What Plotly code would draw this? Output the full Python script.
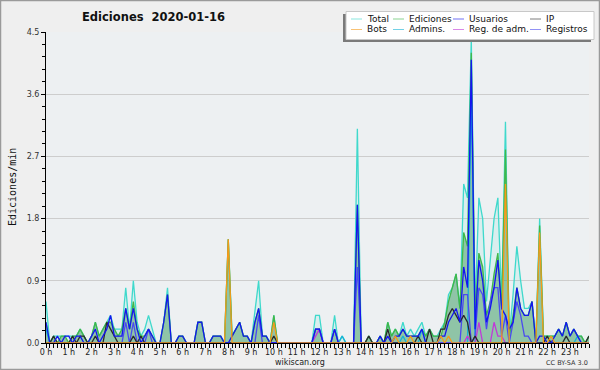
import plotly.graph_objects as go

# ---- data: one value every 10 minutes (edits per minute) ----
minutos = list(range(0, 1440, 10))
horas = [f"{h} h" for h in range(24)]

total = [
    .6, 0, .1, .1, .1, .1,
    .1, .1, .1, .2, .1, 0,
    .1, .3, .1, .2, .3, .4,
    .2, .2, .2, .8, .2, .9,
    .3, .1, .2, .4, .2, 0,
    0, .3, .8, 0, 0, .1,
    .1, 0, 0, 0, .3, .3,
    0, 0, .1, .1, .1, 0,
    1.5, .1, .2, .3, .1, .1,
    0, .5, .9, .1, .1, 0,
    .4, 0, 0, 0, 0, 0,
    0, 0, 0, 0, 0, .4,
    .4, 0, 0, 0, .4, 0,
    .1, 0, 0, 0, 3.1, 0,
    0, .1, 0, 0, .1, 0,
    .3, .1, .2, .1, .3, .1,
    .2, .1, .2, .3, .1, .2,
    .1, .1, .2, .3, .7, .8,
    1.0, .5, 2.3, 2.1, 4.4, .5,
    2.1, 1.8, .6, 1.2, 1.8, 2.1,
    .6, 3.2, .1, .7, 1.4, .9,
    .5, .5, .6, 0, 1.8, .1,
    .1, .1, .1, .2, .1, .3,
    .1, .2, .1, .1, 0, .1,
]
ediciones = [
    .3, 0, .1, 0, .1, .1,
    0, .1, .1, .2, .1, 0,
    .1, .3, .1, .2, .3, .3,
    .2, .1, .2, .5, .2, .6,
    .2, .1, .1, .2, .1, 0,
    0, .3, .7, 0, 0, .1,
    .1, 0, 0, 0, .3, .3,
    0, 0, .1, .1, .1, 0,
    1.5, .1, .2, .3, .1, .1,
    0, .3, .5, .1, .1, 0,
    .4, 0, 0, 0, 0, 0,
    0, 0, 0, 0, 0, .2,
    .2, 0, 0, 0, .2, 0,
    0, 0, 0, 0, 2.0, 0,
    0, .1, 0, 0, .1, 0,
    .3, .1, .2, .1, .2, .1,
    .1, .1, .1, .2, .1, .2,
    .1, .1, .1, .3, .6, .8,
    1.0, .5, 1.6, 1.4, 4.2, .4,
    1.3, 1.1, .4, .6, 1.0, 1.3,
    .5, 2.8, .1, .4, .8, .5,
    .4, .4, .6, 0, 1.7, .1,
    .1, .1, .1, .2, .1, .3,
    .1, .2, .1, .1, 0, .1,
]
usuarios = [
    .3, 0, 0, .1, 0, .1,
    .1, 0, .1, .1, 0, 0,
    .1, .2, 0, .1, .2, .4,
    .1, .1, .1, .5, .2, .5,
    .2, 0, .1, .2, .1, 0,
    0, .3, .7, 0, 0, .1,
    .1, 0, 0, 0, .3, .3,
    0, 0, .1, .1, .1, 0,
    0, .1, .2, .3, .1, .1,
    0, .3, .5, .1, .1, 0,
    0, 0, 0, 0, 0, 0,
    0, 0, 0, 0, 0, .2,
    .2, 0, 0, 0, .2, 0,
    0, 0, 0, 0, 2.0, 0,
    0, 0, 0, 0, .1, 0,
    .1, 0, .1, .1, .2, .1,
    .1, .1, .1, .2, 0, 0,
    0, 0, .1, .1, .3, .4,
    .5, .3, 1.1, .8, 4.1, .2,
    1.2, .9, .3, .5, .8, 1.2,
    .5, .4, .2, .3, .8, .5,
    .4, .4, .6, 0, .1, .1,
    0, 0, .1, .2, .1, .3,
    .1, .2, .1, 0, 0, 0,
]
ip = [
    0, 0, .1, 0, 0, 0,
    0, .1, 0, .1, .1, 0,
    0, .1, 0, 0, .3, .2,
    .1, 0, 0, 0, 0, .1,
    0, .1, 0, 0, 0, 0,
    0, 0, 0, 0, 0, 0,
    0, 0, 0, 0, 0, 0,
    0, 0, 0, 0, 0, 0,
    0, 0, 0, 0, 0, 0,
    0, 0, 0, 0, 0, 0,
    .1, 0, 0, 0, 0, 0,
    0, 0, 0, 0, 0, 0,
    0, 0, 0, 0, 0, 0,
    0, 0, 0, 0, 0, 0,
    0, .1, 0, 0, 0, 0,
    .2, 0, 0, 0, 0, 0,
    0, 0, .1, 0, 0, .2,
    0, 0, .2, .2, .4, .5,
    .4, .3, .4, .3, 0, .1,
    0, 0, 0, 0, 0, 0,
    0, 0, 0, 0, 0, 0,
    0, 0, 0, 0, 0, 0,
    .1, 0, 0, 0, 0, .1,
    0, 0, 0, 0, 0, .1,
]
bots = [
    0, 0, 0, 0, 0, 0,
    0, 0, 0, 0, 0, 0,
    0, 0, 0, 0, 0, 0,
    0, 0, 0, 0, 0, 0,
    0, 0, 0, 0, 0, 0,
    0, 0, 0, 0, 0, 0,
    0, 0, 0, 0, 0, 0,
    0, 0, 0, 0, 0, 0,
    1.5, 0, 0, 0, 0, 0,
    0, 0, 0, 0, 0, 0,
    .3, 0, 0, 0, 0, 0,
    0, 0, 0, 0, 0, 0,
    0, 0, 0, 0, 0, 0,
    0, 0, 0, 0, 0, 0,
    0, 0, 0, 0, 0, 0,
    0, 0, .1, 0, 0, 0,
    .1, 0, 0, 0, 0, 0,
    0, 0, .1, 0, .1, 0,
    0, 0, 0, 0, 0, 0,
    0, 0, 0, 0, 0, 0,
    0, 2.3, 0, 0, 0, 0,
    0, 0, 0, 0, 1.6, 0,
    0, .1, 0, 0, 0, 0,
    0, 0, 0, 0, 0, 0,
]
admins = [
    .2, 0, 0, 0, 0, 0,
    0, 0, 0, 0, 0, 0,
    0, 0, 0, 0, 0, 0,
    0, 0, 0, 0, 0, 0,
    0, 0, 0, 0, 0, 0,
    0, 0, 0, 0, 0, 0,
    0, 0, 0, 0, 0, 0,
    0, 0, 0, 0, 0, 0,
    0, 0, 0, 0, 0, 0,
    0, 0, 0, 0, 0, 0,
    0, 0, 0, 0, 0, 0,
    0, 0, 0, 0, 0, 0,
    0, 0, 0, 0, 0, 0,
    .1, 0, 0, 0, 0, 0,
    0, 0, 0, 0, 0, 0,
    0, 0, 0, 0, .1, 0,
    0, 0, 0, .2, 0, 0,
    0, 0, 0, 0, 0, 0,
    0, 0, 0, 0, 3.7, 0,
    0, 0, 0, 0, 0, 0,
    0, 0, 0, 0, 0, 0,
    0, 0, 0, 0, 0, 0,
    0, 0, 0, 0, 0, 0,
    0, 0, .1, 0, 0, 0,
]
reg_adm = [
    0, 0, 0, 0, 0, 0,
    0, 0, 0, 0, 0, 0,
    0, 0, 0, 0, 0, 0,
    0, 0, 0, 0, 0, 0,
    0, 0, 0, 0, 0, 0,
    0, 0, 0, 0, 0, 0,
    0, 0, 0, 0, 0, 0,
    0, 0, 0, 0, 0, 0,
    0, 0, 0, 0, 0, 0,
    0, 0, 0, 0, 0, 0,
    0, 0, 0, 0, 0, 0,
    0, 0, 0, 0, 0, .1,
    .2, 0, 0, 0, 0, 0,
    0, 0, 0, 0, 0, 0,
    0, 0, 0, 0, 0, 0,
    0, 0, 0, 0, 0, 0,
    0, 0, 0, 0, 0, 0,
    0, 0, 0, 0, 0, 0,
    0, 0, 0, .1, 0, 0,
    .3, 0, 0, 0, .3, .1,
    .1, 0, 0, 0, 0, 0,
    0, 0, 0, 0, 0, 0,
    0, 0, 0, 0, 0, 0,
    0, 0, 0, 0, 0, 0,
]
registros = [
    0, 0, 0, 0, 0, 0,
    0, 0, 0, 0, 0, 0,
    0, 0, 0, 0, 0, 0,
    0, 0, 0, .3, 0, .3,
    0, 0, 0, .2, 0, 0,
    0, 0, 0, 0, 0, 0,
    0, 0, 0, 0, 0, 0,
    0, 0, 0, 0, 0, 0,
    0, 0, 0, 0, 0, 0,
    0, 0, .4, 0, 0, 0,
    0, 0, 0, 0, 0, 0,
    0, 0, 0, 0, 0, .2,
    .2, 0, 0, 0, .2, 0,
    0, 0, 0, 0, 1.1, 0,
    0, 0, 0, 0, 0, 0,
    0, 0, 0, 0, 0, 0,
    0, 0, 0, 0, 0, 0,
    0, 0, 0, 0, 0, 0,
    0, 0, .7, .7, 0, .1,
    .8, .7, .2, .6, .8, .8,
    .1, .4, 0, .3, .6, .4,
    .1, .1, 0, 0, 0, 0,
    0, 0, 0, 0, 0, 0,
    0, 0, 0, 0, 0, 0,
]

# ---- styles ----
series = [
    ("Total", total, "#3fd9cc", "rgba(64,224,208,0.11)"),
    ("Ediciones", ediciones, "#3fb84a", "rgba(60,150,90,0.48)"),
    ("Admins.", admins, "#17b3d6", None),
    ("Reg. de adm.", reg_adm, "#c03ad8", None),
    ("Registros", registros, "#4a4af0", None),
    ("IP", ip, "#2a2a2a", None),
    ("Usuarios", usuarios, "#1414f0", None),
    ("Bots", bots, "#f59a1a", None),
]
colors = {name: c for name, _, c, _ in series}

fig = go.Figure()
for name, vals, col, fill in series:
    fig.add_trace(go.Scatter(
        x=minutos, y=vals, mode="lines", name=name,
        line=dict(color=col, width=1.3),
        fill="tozeroy" if fill else None,
        fillcolor=fill,
        hoverinfo="skip", showlegend=False,
    ))

W, H = 600, 370
L, R, T, B = 46, 11, 32, 27
pw, ph = W - L - R, H - T - B


def px(x):
    return (x - L) / pw


def py(y):
    return (H - B - y) / ph


FONT = "DejaVu Sans"
shapes = []
annotations = []

# outer border
shapes.append(dict(type="rect", xref="paper", yref="paper",
                   x0=px(0.5), x1=px(599.5), y0=py(369.5), y1=py(0.5),
                   line=dict(color="#9a9a9a", width=1.5), fillcolor="rgba(0,0,0,0)",
                   layer="above"))

# legend box (shadow + box)
shapes.append(dict(type="rect", xref="paper", yref="paper",
                   x0=px(343), x1=px(591), y0=py(42), y1=py(14),
                   line=dict(width=0), fillcolor="#7a7a7a", layer="above"))
shapes.append(dict(type="rect", xref="paper", yref="paper",
                   x0=px(346), x1=px(594), y0=py(39.5), y1=py(11.5),
                   line=dict(color="#c8c8c8", width=1), fillcolor="#ffffff", layer="above"))

legend_items = [
    ("Total", 351, 19), ("Ediciones", 393, 19), ("Usuarios", 453, 19), ("IP", 530, 19),
    ("Bots", 351, 29.5), ("Admins.", 393, 29.5), ("Reg. de adm.", 453, 29.5), ("Registros", 530, 29.5),
]
for name, lx, ly in legend_items:
    shapes.append(dict(type="line", xref="paper", yref="paper",
                       x0=px(lx), x1=px(lx + 11), y0=py(ly), y1=py(ly),
                       line=dict(color=colors[name], width=1), opacity=0.6, layer="above"))
    annotations.append(dict(text=name, xref="paper", yref="paper",
                            x=px(lx + 14), y=py(ly), xanchor="left", yanchor="middle",
                            showarrow=False, font=dict(family=FONT, size=9, color="#111")))

annotations += [
    dict(text="<b>Ediciones  2020-01-16</b>", xref="paper", yref="paper",
         x=px(153), y=py(17), xanchor="center", yanchor="middle", showarrow=False,
         font=dict(family=FONT, size=11.5, color="#111")),
    dict(text="Ediciones/min", xref="paper", yref="paper", textangle=-90,
         x=px(12), y=py(187), xanchor="center", yanchor="middle", showarrow=False,
         font=dict(family="DejaVu Sans Mono", size=10, color="#111")),
    dict(text="wikiscan.org", xref="paper", yref="paper",
         x=px(300), y=py(362), xanchor="center", yanchor="middle", showarrow=False,
         font=dict(family=FONT, size=8, color="#222")),
    dict(text="CC BY-SA 3.0", xref="paper", yref="paper",
         x=px(590), y=py(363), xanchor="right", yanchor="middle", showarrow=False,
         font=dict(family=FONT, size=6.5, color="#333")),
]

fig.update_layout(
    width=W, height=H, margin=dict(l=L, r=R, t=T, b=B, autoexpand=False),
    paper_bgcolor="#efefef", plot_bgcolor="#edf0f2",
    shapes=shapes, annotations=annotations, showlegend=False,
    font=dict(family=FONT, size=8, color="#222"),
)
fig.update_xaxes(
    range=[0, 1430], showgrid=False, zeroline=False,
    showline=True, linecolor="#000", linewidth=1,
    tickmode="array", tickvals=list(range(0, 1440, 60)), ticktext=horas,
    ticks="outside", ticklen=4, tickcolor="#000", tickwidth=1,
    ticklabelstandoff=-3,
    minor=dict(dtick=10, tick0=0, ticks="outside", ticklen=4, tickcolor="#000", tickwidth=1),
    tickfont=dict(family=FONT, size=8, color="#222"),
    fixedrange=True,
)
fig.update_yaxes(
    range=[0, 4.5], tick0=0, dtick=0.9, tickformat=".1f",
    showgrid=True, gridcolor="#cdcdcd", gridwidth=1, zeroline=False,
    showline=True, linecolor="#000", linewidth=1,
    ticks="outside", ticklen=4, tickcolor="#000",
    minor=dict(dtick=0.18, tick0=0, ticks="outside", ticklen=3, tickcolor="#000", showgrid=False),
    tickfont=dict(family=FONT, size=8, color="#333"),
    fixedrange=True,
)

fig.write_html("out.html")
